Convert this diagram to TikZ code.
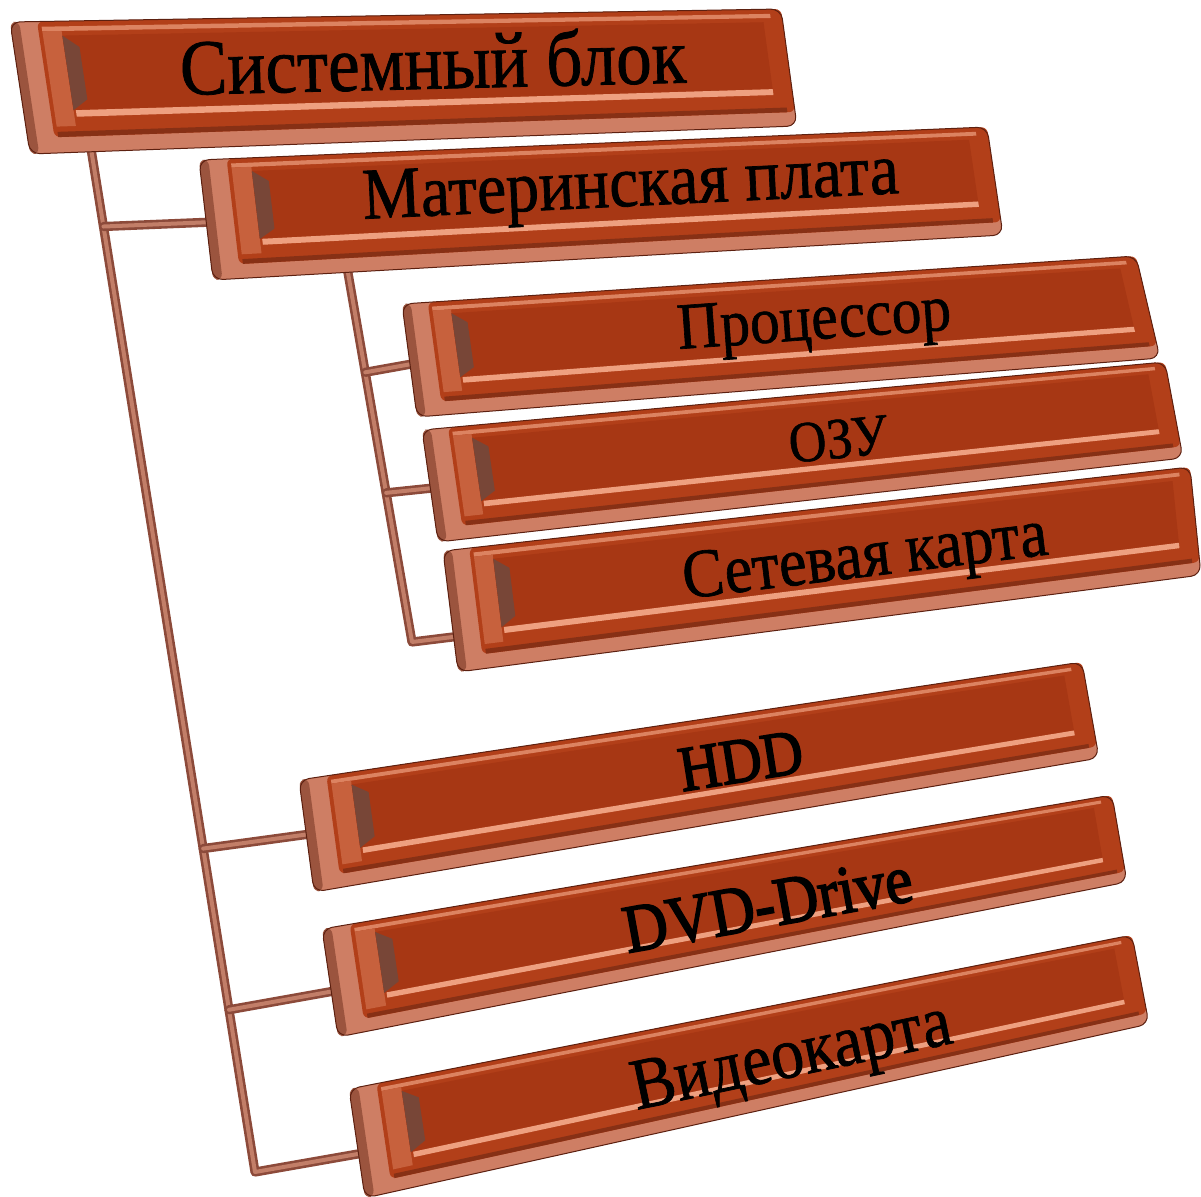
\documentclass[tikz,border=0pt]{standalone}
\usepackage{fontspec}
\setmainfont{Liberation Serif}
\newfontfamily\brickfont{Liberation Serif}[FakeBold=1]
\newfontfamily\heavyfont{Liberation Serif}[FakeBold=2.6]
\usepackage{graphicx}
\usetikzlibrary{calc}

\definecolor{face}{RGB}{178,63,25}
\definecolor{deep}{RGB}{167,55,20}
\definecolor{rim}{RGB}{206,126,100}
\definecolor{edge}{RGB}{92,32,16}
\definecolor{glow}{RGB}{238,160,128}
\definecolor{wedge}{RGB}{120,70,55}
\definecolor{pipecol}{RGB}{140,74,58}
\definecolor{pipeglow}{RGB}{194,126,104}

\tikzset{
  pipe/.style={draw=pipecol, line width=2.6pt, double=pipeglow, double distance=4pt, line cap=round, line join=round},
}

% corners of a brick: \brickat{name}(top left)(top right)(bottom right)(bottom left)
\def\brickat#1(#2)(#3)(#4)(#5){%
  \coordinate (#1-tl) at (#2); \coordinate (#1-tr) at (#3);
  \coordinate (#1-br) at (#4); \coordinate (#1-bl) at (#5);}

% point on a brick: \bpt{name}{u}{v}{new coordinate}   u runs along, v runs down
\def\bpt#1#2#3#4{%
  \coordinate (bp-a) at ($(#1-tl)!#2!(#1-tr)$);
  \coordinate (bp-b) at ($(#1-bl)!#2!(#1-br)$);
  \coordinate (#4) at ($(bp-a)!#3!(bp-b)$);}

% patch of a brick: \bquad{name}{u1}{v1}{u2}{v2}{path options}
\def\bquad#1#2#3#4#5#6{%
  \bpt{#1}{#2}{#3}{q1}\bpt{#1}{#4}{#3}{q2}%
  \bpt{#1}{#4}{#5}{q3}\bpt{#1}{#2}{#5}{q4}%
  \path[#6] (q1) -- (q2) -- (q3) -- (q4) -- cycle;}

% the whole brick: rim, face, recess, bevels
\def\brick#1{%
  \bquad{#1}{0}{0}{1}{1}{fill=rim, rounded corners=10pt}
  \bquad{#1}{0}{0}{0.012}{1}{fill=edge!45!rim, rounded corners=6pt}
  \bquad{#1}{0.035}{0}{1}{0.88}{fill=face, rounded corners=6pt}
  \bquad{#1}{0.04}{0.04}{0.985}{0.075}{fill=glow!70!face}
  \bquad{#1}{0.04}{0.075}{0.065}{0.8}{fill=glow!35!face}
  \bquad{#1}{0.065}{0.11}{0.975}{0.68}{fill=deep}
  \bquad{#1}{0.068}{0.68}{0.975}{0.73}{fill=glow}
  \bquad{#1}{0.04}{0.84}{0.99}{0.88}{fill=edge!50!face}
  \bpt{#1}{0.065}{0.11}{w1}\bpt{#1}{0.085}{0.2}{w2}%
  \bpt{#1}{0.085}{0.6}{w3}\bpt{#1}{0.065}{0.68}{w4}%
  \fill[wedge] (w1) -- (w2) -- (w3) -- (w4) -- cycle;
  \bquad{#1}{0}{0}{1}{1}{draw=edge, line width=1pt, rounded corners=10pt}
}

% label of a brick: \bricklabel{name}{u}{v}{size}{text}
\def\bricklabel#1#2#3#4#5{%
  \bpt{#1}{0}{#3}{lb-l}\bpt{#1}{1}{#3}{lb-r}\bpt{#1}{#2}{#3}{lb-c}%
  \path let \p1=($(lb-r)-(lb-l)$), \n1={atan2(\y1,\x1)} in
    node[rotate=\n1, inner sep=0pt] (#1) at (lb-c)
      {\brickfont\fontsize{#4}{#4}\selectfont\scalebox{0.9}[1]{#5}};}

\begin{document}
\begin{tikzpicture}[x=1pt, y=-1pt]
	\useasboundingbox (0,0) rectangle (1201,1196);
	
	%bricks, corners
	\brickat{sys}(10,22)(781,9)(797,126)(30,154)
	\brickat{board}(199,160)(987,127)(1003,235)(213,280)
	\brickat{cpu}(402,304)(1136,256)(1160,358)(417,417)
	\brickat{ram}(422,430)(1165,362)(1183,458)(438,542)
	\brickat{lan}(443,551)(1190,467)(1201,575)(458,672)
	\brickat{hdd}(299,780)(1082,662)(1099,758)(314,892)
	\brickat{dvd}(322,929)(1112,795)(1127,882)(338,1037)
	\brickat{gpu}(349,1089)(1132,935)(1149,1024)(365,1198)
	
	%pipe ends on the bricks
	\bpt{sys}{0.08}{0.9}{sys-foot}
	\coordinate (sys-end) at (255,1172);
	\bpt{board}{0.015}{0.52}{board-in}
	\bpt{hdd}{0.02}{0.49}{hdd-in}
	\bpt{dvd}{0.02}{0.58}{dvd-in}
	\bpt{gpu}{0.02}{0.6}{gpu-in}
	\bpt{board}{0.17}{0.9}{board-foot}
	\coordinate (board-end) at (412,642);
	\bpt{cpu}{0.02}{0.52}{cpu-in}
	\bpt{ram}{0.02}{0.52}{ram-in}
	\bpt{lan}{0.02}{0.71}{lan-in}
	
	%joints on the two trunks
	\coordinate (sys-j1) at ($(sys-foot)!0.085!(sys-end)$);
	\coordinate (sys-j2) at ($(sys-foot)!0.687!(sys-end)$);
	\coordinate (sys-j3) at ($(sys-foot)!0.843!(sys-end)$);
	\coordinate (board-j1) at ($(board-foot)!0.293!(board-end)$);
	\coordinate (board-j2) at ($(board-foot)!0.609!(board-end)$);
	
	%pipes
	\draw[pipe] (sys-foot) -- (sys-end) -- (gpu-in);
	\draw[pipe] (sys-j1) -- (board-in);
	\draw[pipe] (sys-j2) -- (hdd-in);
	\draw[pipe] (sys-j3) -- (dvd-in);
	\draw[pipe] (board-foot) -- (board-end) -- (lan-in);
	\draw[pipe] (board-j1) -- (cpu-in);
	\draw[pipe] (board-j2) -- (ram-in);
	
	%bricks
	\brick{sys}
	\brick{board}
	\brick{cpu}
	\brick{ram}
	\brick{lan}
	\brick{hdd}
	\brick{dvd}
	\brick{gpu}
	
	%labels
	\bricklabel{sys}{0.54}{0.37}{79}{Системный блок}
	\bricklabel{board}{0.54}{0.42}{73}{Материнская плата}
	\bricklabel{cpu}{0.55}{0.44}{66}{Процессор}
	\bricklabel{ram}{0.55}{0.45}{58}{ОЗУ}
	\bricklabel{lan}{0.557}{0.5}{69}{Сетевая карта}
	\bricklabel{hdd}{0.555}{0.45}{64}{\heavyfont HDD}
	\bricklabel{dvd}{0.554}{0.52}{68}{\heavyfont DVD-Drive}
	\bricklabel{gpu}{0.554}{0.58}{73}{Видеокарта}
	
\end{tikzpicture}
\end{document}
